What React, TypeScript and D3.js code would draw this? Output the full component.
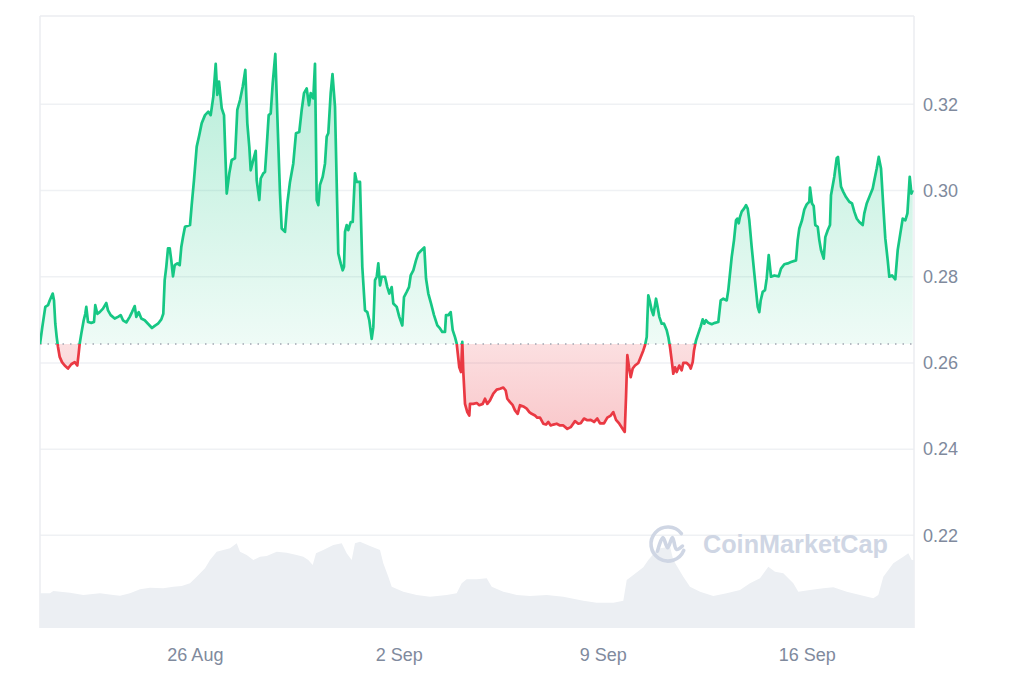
import React from "react";
import * as d3 from "d3";

// ---- data ----
// [day offset from start, price in USD]
const PRICE_POINTS: [number, number][] = [
  [0, 0.2644], [0.079, 0.2683], [0.182, 0.273], [0.275, 0.2734], [0.333, 0.2745], [0.436, 0.2761],
  [0.481, 0.2745], [0.525, 0.2691], [0.573, 0.266], [0.618, 0.2637], [0.676, 0.2614], [0.755, 0.2602],
  [0.848, 0.2594], [0.961, 0.2587], [1.074, 0.2597], [1.191, 0.2602], [1.28, 0.2594], [1.328, 0.2622],
  [1.363, 0.2645], [1.418, 0.2668], [1.5, 0.2699], [1.555, 0.2714], [1.589, 0.273], [1.648, 0.2695],
  [1.761, 0.2693], [1.854, 0.2695], [1.898, 0.2734], [1.967, 0.2714], [2.049, 0.2718], [2.162, 0.2726],
  [2.276, 0.2739], [2.334, 0.2722], [2.427, 0.2711], [2.564, 0.2703], [2.677, 0.2707], [2.77, 0.2711],
  [2.849, 0.2699], [2.962, 0.2694], [3.079, 0.2707], [3.158, 0.2718], [3.251, 0.2732], [3.305, 0.2707],
  [3.388, 0.2718], [3.477, 0.2703], [3.594, 0.2699], [3.707, 0.2691], [3.844, 0.2681], [3.937, 0.2686],
  [4.05, 0.2691], [4.164, 0.2701], [4.232, 0.2714], [4.28, 0.2792], [4.335, 0.2823], [4.394, 0.2866],
  [4.452, 0.2866], [4.507, 0.2838], [4.565, 0.2801], [4.624, 0.2827], [4.713, 0.2831], [4.795, 0.2827],
  [4.85, 0.2869], [4.909, 0.2892], [4.977, 0.2916], [5.149, 0.292], [5.207, 0.2966], [5.286, 0.3024],
  [5.379, 0.3102], [5.468, 0.3129], [5.55, 0.3156], [5.664, 0.3175], [5.777, 0.3183], [5.859, 0.3175],
  [5.949, 0.3218], [6.031, 0.3294], [6.086, 0.3222], [6.144, 0.3253], [6.237, 0.3191], [6.316, 0.3175],
  [6.409, 0.2993], [6.498, 0.304], [6.58, 0.3071], [6.693, 0.3075], [6.772, 0.3187], [6.865, 0.321],
  [6.958, 0.3241], [7.047, 0.328], [7.116, 0.3156], [7.184, 0.3102], [7.232, 0.3047], [7.322, 0.3071],
  [7.404, 0.3092], [7.438, 0.3024], [7.528, 0.2978], [7.576, 0.3028], [7.665, 0.304], [7.723, 0.3043],
  [7.782, 0.3102], [7.85, 0.3175], [7.919, 0.3179], [7.988, 0.3249], [8.077, 0.3317], [8.159, 0.3148],
  [8.238, 0.2993], [8.296, 0.2912], [8.41, 0.2904], [8.489, 0.297], [8.581, 0.302], [8.694, 0.3063],
  [8.787, 0.3133], [8.9, 0.3136], [8.983, 0.3187], [9.062, 0.3226], [9.154, 0.3237], [9.233, 0.3198],
  [9.292, 0.3226], [9.381, 0.3214], [9.439, 0.3294], [9.498, 0.2978], [9.553, 0.2966], [9.611, 0.3013],
  [9.704, 0.3032], [9.783, 0.3063], [9.841, 0.3125], [9.896, 0.3133], [9.978, 0.3226], [10.04, 0.327],
  [10.126, 0.3194], [10.184, 0.3017], [10.239, 0.2854], [10.322, 0.2831], [10.39, 0.2815], [10.435, 0.2823],
  [10.469, 0.2904], [10.527, 0.292], [10.582, 0.2908], [10.665, 0.2927], [10.734, 0.2927], [10.812, 0.304],
  [10.871, 0.302], [10.984, 0.302], [11.063, 0.2823], [11.156, 0.2722], [11.235, 0.2718], [11.303, 0.2699],
  [11.386, 0.2656], [11.441, 0.2683], [11.499, 0.2792], [11.558, 0.28], [11.612, 0.2831], [11.671, 0.278],
  [11.729, 0.28], [11.842, 0.28], [11.921, 0.2776], [11.99, 0.2761], [12.072, 0.2776], [12.127, 0.2738],
  [12.244, 0.273], [12.333, 0.2707], [12.436, 0.2687], [12.494, 0.2753], [12.587, 0.2765], [12.666, 0.2776],
  [12.724, 0.2803], [12.814, 0.2815], [12.906, 0.2838], [12.985, 0.2854], [13.102, 0.2862], [13.191, 0.2868],
  [13.25, 0.2796], [13.329, 0.2761], [13.421, 0.2738], [13.524, 0.2711], [13.638, 0.2687], [13.73, 0.268],
  [13.809, 0.2672], [13.902, 0.2672], [13.936, 0.2711], [14.015, 0.2711], [14.097, 0.2718], [14.166, 0.2676],
  [14.245, 0.266], [14.303, 0.2645], [14.392, 0.259], [14.451, 0.2579], [14.495, 0.2649], [14.53, 0.2579],
  [14.588, 0.2505], [14.667, 0.2486], [14.736, 0.2478], [14.76, 0.2505], [14.873, 0.2505], [14.99, 0.2507],
  [15.079, 0.2502], [15.196, 0.2505], [15.275, 0.2517], [15.354, 0.2505], [15.446, 0.2513], [15.56, 0.2529],
  [15.676, 0.2538], [15.79, 0.254], [15.903, 0.2543], [15.985, 0.2536], [16.04, 0.2517], [16.133, 0.2509],
  [16.226, 0.2502], [16.304, 0.249], [16.397, 0.2482], [16.476, 0.2502], [16.59, 0.2499], [16.706, 0.2494],
  [16.796, 0.2486], [16.878, 0.2482], [16.991, 0.2478], [17.07, 0.2473], [17.163, 0.2473], [17.276, 0.2459],
  [17.369, 0.2457], [17.448, 0.2463], [17.53, 0.2455], [17.62, 0.2457], [17.736, 0.2459], [17.849, 0.2455],
  [17.963, 0.2455], [18.1, 0.2447], [18.216, 0.2451], [18.364, 0.2465], [18.477, 0.2459], [18.56, 0.246],
  [18.673, 0.2471], [18.787, 0.2467], [18.903, 0.2468], [19.017, 0.2463], [19.13, 0.2471], [19.222, 0.246],
  [19.36, 0.246], [19.473, 0.2473], [19.59, 0.2478], [19.679, 0.2486], [19.772, 0.2468], [19.885, 0.2459],
  [20.002, 0.2447], [20.071, 0.244], [20.115, 0.2521], [20.16, 0.2618], [20.218, 0.259], [20.276, 0.2567],
  [20.345, 0.2587], [20.424, 0.2594], [20.537, 0.26], [20.62, 0.2614], [20.709, 0.2629], [20.767, 0.2641],
  [20.826, 0.266], [20.846, 0.2699], [20.88, 0.2757], [20.939, 0.2741], [20.997, 0.2722], [21.052, 0.2711],
  [21.11, 0.2734], [21.145, 0.2749], [21.189, 0.2734], [21.258, 0.2707], [21.34, 0.2691], [21.419, 0.2691],
  [21.512, 0.2676], [21.567, 0.266], [21.625, 0.2637], [21.683, 0.2606], [21.738, 0.2575], [21.797, 0.259],
  [21.855, 0.2579], [21.944, 0.2594], [22.026, 0.2583], [22.081, 0.26], [22.198, 0.26], [22.287, 0.2594],
  [22.335, 0.2587], [22.404, 0.2602], [22.449, 0.2629], [22.517, 0.2652], [22.596, 0.2668], [22.679, 0.2685],
  [22.747, 0.2701], [22.802, 0.2691], [22.861, 0.2699], [22.94, 0.2693], [23.056, 0.269], [23.169, 0.2693],
  [23.283, 0.2695], [23.365, 0.2745], [23.455, 0.2749], [23.571, 0.2745], [23.626, 0.2769], [23.684, 0.2807],
  [23.743, 0.2846], [23.822, 0.2885], [23.89, 0.2931], [23.935, 0.2935], [23.983, 0.2924], [24.028, 0.2939],
  [24.086, 0.2951], [24.165, 0.2958], [24.234, 0.2966], [24.292, 0.2958], [24.347, 0.2931], [24.429, 0.2869],
  [24.508, 0.2815], [24.577, 0.2769], [24.635, 0.273], [24.69, 0.2718], [24.738, 0.2745], [24.807, 0.2765],
  [24.886, 0.2769], [24.944, 0.2796], [25.013, 0.285], [25.092, 0.28], [25.205, 0.2803], [25.356, 0.2801],
  [25.435, 0.2819], [25.548, 0.2829], [25.665, 0.2831], [25.778, 0.2834], [25.95, 0.2838], [26.008, 0.2885],
  [26.063, 0.2912], [26.156, 0.2931], [26.235, 0.2956], [26.317, 0.2968], [26.406, 0.2974], [26.43, 0.3007],
  [26.499, 0.297], [26.557, 0.2964], [26.612, 0.292], [26.695, 0.2916], [26.75, 0.2885], [26.808, 0.2862],
  [26.901, 0.2842], [26.956, 0.2892], [27.038, 0.2908], [27.117, 0.292], [27.151, 0.2989], [27.264, 0.3032],
  [27.347, 0.3075], [27.391, 0.3078], [27.436, 0.3047], [27.494, 0.3009], [27.573, 0.2997], [27.666, 0.2985],
  [27.779, 0.2974], [27.872, 0.297], [27.951, 0.2951], [28.033, 0.2935], [28.122, 0.2927], [28.239, 0.292],
  [28.294, 0.2947], [28.377, 0.297], [28.49, 0.2989], [28.583, 0.3005], [28.638, 0.3024], [28.72, 0.3051],
  [28.789, 0.3078], [28.868, 0.3051], [28.947, 0.2962], [29.015, 0.2889], [29.098, 0.2838], [29.153, 0.28],
  [29.245, 0.2803], [29.358, 0.2794], [29.441, 0.2862], [29.53, 0.29], [29.613, 0.2935], [29.702, 0.2931],
  [29.774, 0.2947], [29.853, 0.3032], [29.912, 0.2993], [29.957, 0.3001],
];

// [day offset from start, 24h volume in millions USD]
const VOLUME_POINTS: [number, number][] = [
  [0, 34.7], [0.343, 34.7], [0.457, 37], [1.03, 35.3], [1.486, 33], [2.06, 34.7], [2.516, 33], [2.746, 32.3],
  [3.089, 34.7], [3.433, 38.7], [3.776, 40.3], [4.232, 39.7], [4.575, 41.3], [4.864, 42], [5.149, 44.7],
  [5.379, 51.3], [5.664, 59.7], [5.835, 68], [6.065, 76.3], [6.292, 78], [6.522, 79.7], [6.752, 84.7],
  [6.865, 76.3], [7.095, 73], [7.322, 68], [7.552, 71.3], [7.782, 72], [8.125, 76.3], [8.468, 75.3],
  [8.811, 73], [9.038, 71.3], [9.209, 68], [9.361, 63], [9.474, 74.7], [9.724, 78], [10.068, 83],
  [10.356, 84.7], [10.527, 74.7], [10.699, 68], [10.812, 84.7], [10.984, 86.3], [11.327, 82], [11.671, 78],
  [11.784, 64.7], [11.956, 51.3], [12.072, 41.3], [12.47, 36.3], [12.93, 33], [13.387, 31.3], [13.96, 33],
  [14.303, 34.7], [14.475, 44.7], [14.646, 48.7], [14.99, 48.7], [15.333, 49.7], [15.505, 41.3],
  [15.903, 36.3], [16.363, 33], [16.819, 32], [17.393, 33], [17.962, 31.3], [18.649, 27.3], [19.109, 25.3],
  [19.679, 25.3], [20.022, 27.3], [20.139, 48], [20.366, 53], [20.709, 60.7], [20.881, 68], [21.169, 78],
  [21.282, 79.7], [21.625, 81.3], [21.738, 68], [22.081, 51.3], [22.311, 41.3], [22.655, 36.3],
  [23.111, 32], [23.571, 34.7], [24.028, 38], [24.371, 44.7], [24.714, 49.7], [25.0, 61.3], [25.229, 56.3],
  [25.514, 54.7], [25.857, 44.7], [26.029, 36.3], [26.43, 38], [26.887, 39.7], [27.23, 40.7], [27.69, 36.3],
  [28.147, 33], [28.603, 29.7], [28.775, 33], [28.947, 51.3], [29.29, 64.7], [29.633, 71.3], [29.805, 74.7],
  [29.922, 68], [30, 68],
];

const Y_TICKS = [0.22, 0.24, 0.26, 0.28, 0.3, 0.32];
const X_TICK_DATES = [new Date(2024, 7, 26), new Date(2024, 8, 2), new Date(2024, 8, 9), new Date(2024, 8, 16)];
const START = new Date(2024, 7, 20, 16, 0);
const SPAN_DAYS = 30;
const PRICE_DOMAIN: [number, number] = [0.1985, 0.3405];
const VOLUME_DOMAIN: [number, number] = [0, 100];

// ---- layout ----
const W = 1024;
const H = 683;
const M = { left: 40, right: 110, top: 16, bottom: 55 };
const GREEN = "#16c784";
const RED = "#ea3943";
const LABEL = "#808a9d";
const GRID = "#eff1f4";
const FONT = "'Liberation Sans', Arial, Helvetica, sans-serif";

const DAY_MS = 86400000;
const toDate = (d: number) => new Date(START.getTime() + d * DAY_MS);

export default function App() {
  const x0 = M.left;
  const x1 = W - M.right;
  const yTop = M.top;
  const yBot = H - M.bottom;

  const x = d3.scaleTime().domain([START, toDate(SPAN_DAYS)]).range([x0, x1]);
  const y = d3.scaleLinear().domain(PRICE_DOMAIN).range([yBot, yTop]);
  const yv = d3.scaleLinear().domain(VOLUME_DOMAIN).range([yBot, yBot - 100]);

  const baseValue = PRICE_POINTS[0][1];
  const baseY = y(baseValue);

  const line = d3
    .line<[number, number]>()
    .x((d) => x(toDate(d[0])))
    .y((d) => y(d[1]));
  const area = d3
    .area<[number, number]>()
    .x((d) => x(toDate(d[0])))
    .y0(baseY)
    .y1((d) => y(d[1]));
  const volArea = d3
    .area<[number, number]>()
    .x((d) => x(toDate(d[0])))
    .y0(yBot)
    .y1((d) => yv(d[1]));

  const fmtY = d3.format(".2f");
  const fmtX = d3.timeFormat("%-d %b");

  // watermark logo
  const cx = 668;
  const cy = 544;
  const r = 17;
  const a1 = (-38 * Math.PI) / 180;
  const a2 = (22 * Math.PI) / 180;
  const ring = `M${cx + r * Math.cos(a1)},${cy + r * Math.sin(a1)} A${r},${r} 0 1 0 ${cx + r * Math.cos(a2)},${cy + r * Math.sin(a2)}`;
  const wavePts: [number, number][] = [
    [cx - r * 0.62, cy + r * 0.42],
    [cx - r * 0.3, cy - r * 0.38],
    [cx - r * 0.02, cy + r * 0.22],
    [cx + r * 0.26, cy - r * 0.38],
    [cx + r * 0.5, cy + r * 0.32],
    [cx + r * 0.85, cy + r * 0.12],
  ];
  const wave = d3.line().curve(d3.curveCatmullRom.alpha(0.5))(wavePts) || "";

  return (
    <svg
      width={W}
      height={H}
      viewBox={`0 0 ${W} ${H}`}
      style={{ position: "absolute", left: 0, top: 0, display: "block", background: "#fff" }}
    >
      <defs>
        <clipPath id="clipUp">
          <rect x={x0} y={yTop} width={x1 - x0} height={baseY - yTop} />
        </clipPath>
        <clipPath id="clipDown">
          <rect x={x0} y={baseY} width={x1 - x0} height={yBot - baseY} />
        </clipPath>
        <linearGradient id="gUp" gradientUnits="userSpaceOnUse" x1="0" y1={y(0.333)} x2="0" y2={baseY}>
          <stop offset="0" stopColor={GREEN} stopOpacity={0.32} />
          <stop offset="1" stopColor={GREEN} stopOpacity={0.07} />
        </linearGradient>
        <linearGradient id="gDown" gradientUnits="userSpaceOnUse" x1="0" y1={baseY} x2="0" y2={y(0.244)}>
          <stop offset="0" stopColor={RED} stopOpacity={0.16} />
          <stop offset="1" stopColor={RED} stopOpacity={0.28} />
        </linearGradient>
      </defs>

      {/* grid */}
      {Y_TICKS.map((t) => (
        <line key={t} x1={x0} x2={x1} y1={y(t)} y2={y(t)} stroke={GRID} strokeWidth={1.5} />
      ))}
      {/* frame */}
      <line x1={x0} x2={x1} y1={yTop} y2={yTop} stroke="#ebedf0" strokeWidth={1.5} />
      <line x1={x0} x2={x0} y1={yTop} y2={yBot} stroke="#ebedf0" strokeWidth={1.5} />
      <line x1={x1} x2={x1} y1={yTop} y2={yBot} stroke="#ebedf0" strokeWidth={1.5} />

      {/* volume */}
      <path d={volArea(VOLUME_POINTS) || ""} fill="#eceff3" />

      {/* watermark */}
      <g>
        <path d={ring} fill="none" stroke="#cfd6e4" strokeWidth={3.6} strokeLinecap="round" />
        <path d={wave} fill="none" stroke="#cfd6e4" strokeWidth={3.6} strokeLinecap="round" strokeLinejoin="round" />
        <text
          x={703}
          y={553}
          fontFamily={FONT}
          fontWeight={700}
          fontSize={25}
          fill="#cfd6e4"
          textLength={185}
          lengthAdjust="spacingAndGlyphs"
        >
          CoinMarketCap
        </text>
      </g>

      {/* price areas */}
      <path d={area(PRICE_POINTS) || ""} fill="url(#gUp)" clipPath="url(#clipUp)" />
      <path d={area(PRICE_POINTS) || ""} fill="url(#gDown)" clipPath="url(#clipDown)" />

      {/* baseline */}
      <line
        x1={x0}
        x2={x1}
        y1={baseY}
        y2={baseY}
        stroke="#a1a7b3"
        strokeWidth={1.3}
        strokeDasharray="1.5 6"
      />

      {/* price lines */}
      <path
        d={line(PRICE_POINTS) || ""}
        fill="none"
        stroke={GREEN}
        strokeWidth={2.7}
        strokeLinejoin="round"
        clipPath="url(#clipUp)"
      />
      <path
        d={line(PRICE_POINTS) || ""}
        fill="none"
        stroke={RED}
        strokeWidth={2.7}
        strokeLinejoin="round"
        clipPath="url(#clipDown)"
      />

      {/* y axis labels */}
      {Y_TICKS.map((t) => (
        <text
          key={t}
          x={x1 + 9}
          y={y(t)}
          dy="0.35em"
          fontFamily={FONT}
          fontSize={18}
          fill={LABEL}
        >
          {fmtY(t)}
        </text>
      ))}

      {/* x axis labels */}
      {X_TICK_DATES.map((d) => (
        <text
          key={d.getTime()}
          x={x(d)}
          y={661}
          textAnchor="middle"
          fontFamily={FONT}
          fontSize={18}
          fill={LABEL}
        >
          {fmtX(d)}
        </text>
      ))}
    </svg>
  );
}
